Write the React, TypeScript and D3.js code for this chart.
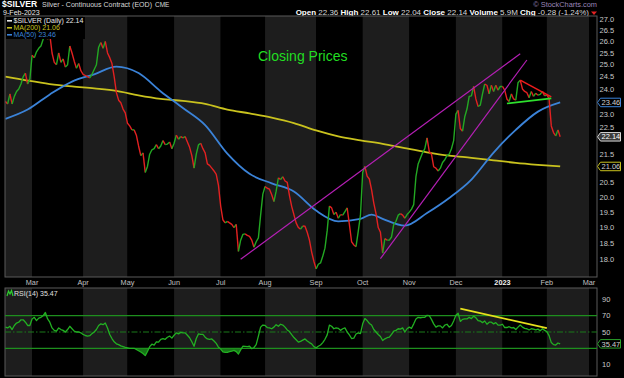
import React from 'react';
import * as d3 from 'd3';

const W = 624;
const H = 378;

// ---------- trading calendar ----------
const START_DATE = '2022-02-10';
const CALENDAR_END = '2023-03-10';
const HOLIDAYS = ['2022-02-21', '2022-04-15', '2022-05-30', '2022-06-20', '2022-07-04', '2022-09-05',
  '2022-11-24', '2022-12-26', '2023-01-02', '2023-01-16', '2023-02-20'];

// ---------- closes (per trading day, by month) ----------
const closeFeb2022 = [23.5, 23.4, 23.8, 23.4, 23.7, 23.9, 24.0, 24.2, 24.5, 24.65, 24.2, 24.4];
const closeMar2022 = [25.4, 25.3, 25.55, 25.7, 25.8, 26.1, 26.4, 26.1, 26.3, 25.5, 25.1, 25.0, 25.5, 25.1, 25.25, 24.9, 25.0, 25.8, 25.5, 25.15, 24.85, 25.05, 24.75];
const closeApr2022 = [24.6, 24.55, 24.5, 24.45, 24.6, 24.8, 25.0, 25.75, 25.95, 25.7, 26.0, 25.5, 25.3, 25.05, 24.5, 23.85, 23.55, 23.45, 23.2, 23.05];
const closeMay2022 = [22.65, 22.55, 22.4, 22.4, 22.2, 21.8, 21.45, 21.55, 20.85, 21.06, 21.5, 21.66, 21.7, 21.85, 21.7, 21.8, 22.0, 21.85, 21.87, 21.95, 21.7];
const closeJun2022 = [21.9, 22.2, 22.05, 22.15, 22.1, 22.15, 21.95, 21.75, 21.45, 21.0, 21.5, 21.84, 21.9, 21.7, 21.55, 21.15, 21.1, 21.0, 20.9, 20.78, 20.4];
const closeJul2022 = [19.7, 19.25, 19.15, 19.2, 19.15, 19.1, 19.0, 19.1, 18.25, 18.6, 18.78, 18.8, 18.75, 18.72, 18.6, 18.38, 18.55, 18.67, 19.4, 20.1];
const closeAug2022 = [20.36, 20.3, 20.27, 20.08, 19.85, 20.2, 20.66, 20.6, 20.7, 20.55, 20.5, 20.05, 19.69, 19.42, 19.15, 19.0, 18.95, 19.05, 19.04, 18.85, 18.6, 18.23, 17.95];
const closeSep2022 = [17.72, 17.86, 17.9, 18.1, 18.35, 18.9, 19.7, 19.64, 19.42, 19.5, 19.3, 19.42, 19.4, 19.52, 19.64, 19.1, 18.55, 18.45, 18.4, 18.88, 19.4];
const closeOct2022 = [20.85, 21.06, 20.72, 20.62, 20.25, 19.8, 19.45, 19.0, 18.85, 18.2, 18.65, 18.6, 18.6, 18.7, 19.1, 19.2, 19.4, 19.45, 19.4, 19.3, 19.42];
const closeNov2022 = [19.5, 19.6, 19.75, 20.7, 21.15, 21.35, 21.55, 21.7, 22.1, 21.6, 21.5, 21.05, 21.0, 20.9, 21.0, 21.2, 21.3, 21.45, 21.5, 21.7, 22.0];
const closeDec2022 = [23.0, 23.15, 22.45, 22.35, 22.9, 23.2, 23.7, 23.72, 24.1, 23.6, 23.3, 23.35, 23.8, 24.2, 24.15, 23.8, 24.15, 23.9, 24.15, 23.95, 24.1];
const closeJan2023 = [24.1, 23.95, 23.6, 23.5, 23.8, 23.6, 23.55, 24.25, 24.36, 24.0, 23.9, 23.85, 23.65, 23.9, 23.7, 23.83, 23.75, 23.78, 23.9, 23.72];
const closeFeb2023 = [23.76, 23.62, 22.55, 22.3, 22.17, 22.4, 22.14];

// ---------- RSI(14) (per trading day, by month) ----------
const rsiFeb2022 = [56, 55, 57, 53, 58, 61, 62, 65, 65, 62, 58, 58];
const rsiMar2022 = [66, 68, 64, 67, 68, 70, 74, 66, 62, 55, 52, 51, 55, 53, 52, 50, 53, 57, 54, 51, 50, 50, 49];
const rsiApr2022 = [47, 45.7, 45, 45.5, 48, 50, 53, 58, 60, 59, 61, 55, 47, 42, 38, 35.5, 34.5, 33, 32, 31];
const rsiMay2022 = [30.5, 30, 30, 30, 28.5, 27, 25.5, 23.5, 21, 26, 32, 35, 34, 38, 37.5, 41, 42, 41, 43.6, 45, 42.5];
const rsiJun2022 = [46, 49, 47.7, 49.5, 49, 49, 46, 43, 38, 32.5, 42, 47.7, 47, 47, 43.6, 41.5, 41, 41.5, 39, 36, 31.3];
const rsiJul2022 = [29, 25.5, 25.1, 25, 25.8, 26.5, 27.5, 26, 23, 28, 32.5, 32.3, 32, 32.5, 29.5, 31, 34.5, 45, 56, 58.5];
const rsiAug2022 = [58, 55.5, 55, 54, 56, 59, 57, 59.5, 58.5, 56, 52.5, 50.5, 46.7, 43.2, 40.5, 37.5, 38.5, 40, 41.5, 39, 37, 35.5, 32];
const rsiSep2022 = [30.5, 32.5, 34, 37, 41, 46.5, 58.5, 57, 54, 55, 54.5, 52, 54, 55, 50, 46.5, 42, 42.5, 47.5, 49, 48];
const rsiOct2022 = [60, 66.5, 64, 60.5, 58.5, 53, 50, 47, 44.5, 39.5, 41.6, 43, 43.6, 47, 51, 52, 54, 53.5, 55, 50, 54];
const rsiNov2022 = [56, 54.5, 60, 66, 68, 67.5, 68, 68, 70.5, 70, 65.5, 60, 56, 57.5, 57.5, 55, 58.5, 59.5, 56, 58, 63.5];
const rsiDec2022 = [70.5, 73, 63, 65.5, 66, 66, 68, 66.5, 69.5, 67.5, 64, 63.5, 61.5, 63.5, 59.5, 62, 62, 60, 61.5, 58.5, 58.5];
const rsiJan2023 = [59.5, 55.5, 55.5, 56.5, 55, 55.5, 53, 56, 58.5, 56, 54.5, 54, 52.5, 54, 53.5, 52.5, 53.5, 51.5, 54, 52];
const rsiFeb2023 = [50.5, 45.5, 37, 34.5, 34, 36.5, 35.47];

// ---------- moving averages (sampled on trading-day number) ----------
const ma50Day = [0, 10, 20, 30, 40, 50, 60, 70, 80, 90, 100, 110, 120, 130, 140, 150, 160, 165, 170, 180, 190, 200, 210, 220, 230, 240, 250];
const ma50Value = [22.82, 23.18, 23.78, 24.3, 24.6, 24.92, 24.65, 23.9, 23.24, 22.58, 21.52, 20.8, 20.47, 20.19, 19.55, 19.2, 19.28, 19.42, 19.28, 19.06, 19.47, 19.97, 20.6, 21.56, 22.4, 23.1, 23.46];
const ma200Day = [0, 10, 20, 30, 40, 50, 60, 70, 80, 90, 100, 110, 120, 130, 140, 150, 160, 170, 180, 190, 200, 210, 220, 230, 240, 250];
const ma200Value = [24.5, 24.34, 24.2, 24.1, 24.02, 23.92, 23.74, 23.6, 23.52, 23.4, 23.18, 23.03, 22.87, 22.66, 22.38, 22.16, 22.01, 21.88, 21.72, 21.57, 21.45, 21.37, 21.28, 21.19, 21.12, 21.06];

// ---------- annotations (date, value) ----------
const channelUpper = [{ date: '2022-07-15', value: 18.01 }, { date: '2023-01-13', value: 25.47 }];
const channelLower = [{ date: '2022-10-13', value: 18.03 }, { date: '2023-01-19', value: 25.2 }];
const pennantTop = [{ date: '2023-01-13', value: 24.36 }, { date: '2023-02-03', value: 23.68 }];
const pennantBottom = [{ date: '2023-01-05', value: 23.42 }, { date: '2023-02-03', value: 23.62 }];
const rsiTrend = [{ date: '2022-12-05', value: 78.6 }, { date: '2023-02-01', value: 54.7 }];

// ---------- labels ----------
const priceTicks = [18.0, 18.5, 19.0, 19.5, 20.0, 20.5, 21.0, 21.5, 22.0, 22.5, 23.0, 23.5, 24.0, 24.5, 25.0, 25.5, 26.0, 26.5, 27.0];
const rsiTicks = [10, 30, 50, 70, 90];
const rsiLevels = [30, 70];
const headerStats = [['Open', '22.36'], ['High', '22.61'], ['Low', '22.04'], ['Close', '22.14'], ['Volume', '5.9M'], ['Chg', '-0.28 (-1.24%)']];
const legendItems = [
  { label: '$SILVER (Daily) 22.14', color: '#e8e8e8' },
  { label: 'MA(200) 21.06', color: '#c9c21e' },
  { label: 'MA(50) 23.46', color: '#3b83d8' },
];
const lastClose = 22.14;
const lastMA50 = 23.46;
const lastMA200 = 21.06;
const lastRSI = 35.47;

// ---------- layout ----------
const PL = 5, PR = 597;
const PT = 16, PB = 277;
const RT = 288, RB = 376;
const FONT = "'Liberation Sans', Arial, sans-serif";
const UP = '#23a823';
const DOWN = '#e22121';
const GRAY_BAND = '#1d1d1d';

function iso(d: Date) {
  return d3.utcFormat('%Y-%m-%d')(d);
}

function tradingDays(): Date[] {
  const all = d3.utcDay.range(new Date(START_DATE + 'T00:00:00Z'), new Date(CALENDAR_END + 'T00:00:00Z'));
  return all.filter((d) => d.getUTCDay() !== 0 && d.getUTCDay() !== 6 && !HOLIDAYS.includes(iso(d)));
}

export default function App() {
  const days = tradingDays();
  const closes = [...closeFeb2022, ...closeMar2022, ...closeApr2022, ...closeMay2022, ...closeJun2022, ...closeJul2022,
    ...closeAug2022, ...closeSep2022, ...closeOct2022, ...closeNov2022, ...closeDec2022, ...closeJan2023, ...closeFeb2023];
  const rsi = [...rsiFeb2022, ...rsiMar2022, ...rsiApr2022, ...rsiMay2022, ...rsiJun2022, ...rsiJul2022,
    ...rsiAug2022, ...rsiSep2022, ...rsiOct2022, ...rsiNov2022, ...rsiDec2022, ...rsiJan2023, ...rsiFeb2023];
  const n = closes.length;

  const x = d3.scaleLinear().domain([-0.2, 266.6]).range([PL, PR]);
  const y = d3.scaleLog().domain([17.48, 27.14]).range([PB, PT]);
  const yr = d3.scaleLinear().domain([-4, 104]).range([RB, RT]);
  const idxOf = (s: string) => days.findIndex((d) => iso(d) === s);

  // month starts
  const monthStarts: { i: number; d: Date }[] = [];
  days.forEach((d, i) => {
    if (i === 0 || d.getUTCMonth() !== days[i - 1].getUTCMonth()) monthStarts.push({ i, d });
  });
  const bands = monthStarts
    .map((m, k) => ({
      x0: k === 0 ? PL : x(m.i),
      x1: k + 1 < monthStarts.length ? Math.min(PR, x(monthStarts[k + 1].i)) : PR,
      gray: k % 2 === 0,
    }))
    .filter((b) => b.x0 < PR);
  const monthLabels = monthStarts
    .filter((m, k) => k > 0 && x(m.i) <= PR)
    .map((m) => ({
      x: x(m.i),
      text: m.d.getUTCMonth() === 0 ? String(m.d.getUTCFullYear()) : d3.utcFormat('%b')(m.d),
      year: m.d.getUTCMonth() === 0,
    }));

  // price segments colored by direction
  const segs: { up: boolean; pts: number[] }[] = [];
  let cur: { up: boolean; pts: number[] } | null = null;
  for (let i = 1; i < n; i++) {
    const up = closes[i] >= closes[i - 1];
    if (!cur || cur.up !== up) {
      cur = { up, pts: [i - 1] };
      segs.push(cur);
    }
    cur.pts.push(i);
  }
  const priceLine = d3.line<number>().x((i) => x(i)).y((i) => y(closes[i]));
  const maLine = d3.line<[number, number]>().x((p) => x(p[0])).y((p) => y(p[1])).curve(d3.curveMonotoneX);
  const ma50Path = maLine(ma50Day.map((dd, k) => [dd, ma50Value[k]]));
  const ma200Path = maLine(ma200Day.map((dd, k) => [dd, ma200Value[k]]));

  const rsiIdx = d3.range(n);
  const rsiLine = d3.line<number>().x((i) => x(i)).y((i) => yr(rsi[i]));
  const rsiAreaHigh = d3.area<number>().x((i) => x(i)).y0(yr(70)).y1((i) => yr(rsi[i]));
  const rsiAreaLow = d3.area<number>().x((i) => x(i)).y0(yr(30)).y1((i) => yr(rsi[i]));

  const seg = (pts: { date: string; value: number }[], sy: (v: number) => number) => {
    const a = pts[0], b = pts[1];
    return { x1: x(idxOf(a.date)), y1: sy(a.value), x2: x(idxOf(b.date)), y2: sy(b.value) };
  };
  const chU = seg(channelUpper, y);
  const chL = seg(channelLower, y);
  const pT = seg(pennantTop, y);
  const pB = seg(pennantBottom, y);
  const rT = seg(rsiTrend, yr);

  const priceTags = [lastMA50, lastClose, lastMA200].map((v) => y(v));
  const visiblePriceTicks = priceTicks.filter((t) => priceTags.every((ty) => Math.abs(y(t) - ty) > 7));
  const visibleRsiTicks = rsiTicks.filter((t) => Math.abs(yr(t) - yr(lastRSI)) > 7);

  const tag = (yy: number, text: string, stroke: string, fill: string, color: string, key: string) => {
    const h = 8.5;
    const x0 = PR + 0.5;
    const w = 23;
    const d = `M${x0},${yy} L${x0 + 3},${yy - h / 2} L${x0 + w},${yy - h / 2} L${x0 + w},${yy + h / 2} L${x0 + 3},${yy + h / 2} Z`;
    return (
      <g key={key}>
        <path d={d} fill={fill} stroke={stroke} strokeWidth={1} />
        <text x={x0 + 4} y={yy + 2.7} fontSize={7.5} fill={color} fontFamily={FONT}>{text}</text>
      </g>
    );
  };

  return (
    <div style={{ position: 'absolute', left: 0, top: 0 }}>
      <svg width={W} height={H} style={{ display: 'block', background: '#000' }} fontFamily={FONT}>
        <defs>
          <clipPath id="priceClip"><rect x={PL} y={PT} width={PR - PL} height={PB - PT} /></clipPath>
          <clipPath id="rsiClip"><rect x={PL} y={RT} width={PR - PL} height={RB - RT} /></clipPath>
          <clipPath id="rsiHighClip"><rect x={PL} y={RT} width={PR - PL} height={yr(70) - RT} /></clipPath>
          <clipPath id="rsiLowClip"><rect x={PL} y={yr(30)} width={PR - PL} height={RB - yr(30)} /></clipPath>
        </defs>
        <rect x={0} y={0} width={W} height={H} fill="#000" />

        {/* header */}
        <text x={2} y={7} fontSize={8.6} fontWeight="bold" fill="#fff">$SILVER</text>
        <text x={42} y={7} fontSize={7} fill="#d8d8d8" textLength={110} lengthAdjust="spacingAndGlyphs">Silver - Continuous Contract (EOD)</text>
        <text x={155} y={7} fontSize={6.5} fill="#d8d8d8">CME</text>
        <text x={3} y={14.8} fontSize={7.1} fill="#e8e8e8">9-Feb-2023</text>
        <text x={PR} y={6.5} fontSize={7.4} fill="#9a86b8" textAnchor="end">© StockCharts.com</text>
        <text x={589} y={14.5} fontSize={8} textAnchor="end">
          {headerStats.map(([k, v], j) => (
            <React.Fragment key={k}>
              <tspan fill="#fff" fontWeight="bold">{(j > 0 ? '  ' : '') + k}</tspan>
              <tspan fill="#d8d8d8">{' ' + v}</tspan>
            </React.Fragment>
          ))}
        </text>
        <path d="M591,11.5 L597,11.5 L594,15 Z" fill="#e22121" />

        {/* panel backgrounds: alternating month shading */}
        {bands.map((b, k) => (
          <rect key={'pb' + k} x={b.x0} y={PT} width={b.x1 - b.x0} height={PB - PT} fill={b.gray ? GRAY_BAND : '#000'} />
        ))}
        {bands.map((b, k) => (
          <rect key={'rb' + k} x={b.x0} y={RT} width={b.x1 - b.x0} height={RB - RT} fill={b.gray ? GRAY_BAND : '#000'} />
        ))}

        <g clipPath="url(#priceClip)">
          <path d={ma200Path || ''} fill="none" stroke="#c9c21e" strokeWidth={1.8} />
          <path d={ma50Path || ''} fill="none" stroke="#3b83d8" strokeWidth={1.8} />
          {segs.map((s, k) => (
            <path key={'s' + k} d={priceLine(s.pts) || ''} fill="none" stroke={s.up ? UP : DOWN} strokeWidth={1.4} strokeLinejoin="round" />
          ))}
          <line {...chU} stroke="#b41fb4" strokeWidth={1.2} />
          <line {...chL} stroke="#b41fb4" strokeWidth={1.2} />
          <line {...pT} stroke="#ee1c1c" strokeWidth={1.6} />
          <line {...pB} stroke="#2ee02e" strokeWidth={1.6} />
        </g>

        {/* legend */}
        <rect x={6} y={17} width={79} height={22} fill="#000" />
        {legendItems.map((it, k) => (
          <g key={it.label}>
            <line x1={7} x2={12} y1={20.8 + k * 7} y2={20.8 + k * 7} stroke={it.color} strokeWidth={1.6} />
            <text x={13.5} y={23.3 + k * 7} fontSize={7} fill={it.color}>{it.label}</text>
          </g>
        ))}

        <text x={258} y={61} fontSize={14} fill="#22dd22">Closing Prices</text>

        {/* frames */}
        <rect x={PL} y={PT} width={PR - PL} height={PB - PT} fill="none" stroke="#5a5a5a" strokeWidth={1} />
        <rect x={PL} y={RT} width={PR - PL} height={RB - RT} fill="none" stroke="#5a5a5a" strokeWidth={1} />

        {/* price axis */}
        {visiblePriceTicks.map((t) => (
          <text key={'pt' + t} x={599.5} y={y(t) + 2.6} fontSize={7.5} fill="#c8c8c8">{t.toFixed(1)}</text>
        ))}
        {tag(y(lastMA50), lastMA50.toFixed(2), '#3b83d8', '#000', '#d0d0d0', 'tg1')}
        {tag(y(lastClose), lastClose.toFixed(2), '#d8d8d8', '#3a3a3a', '#fff', 'tg2')}
        {tag(y(lastMA200), lastMA200.toFixed(2), '#c9c21e', '#000', '#d0d0d0', 'tg3')}

        {/* month labels */}
        {monthLabels.map((m) => (
          <text key={'m' + m.x} x={m.x} y={284.5} fontSize={7.3} textAnchor="middle"
            fill={m.year ? '#f0f0f0' : '#c0c0c0'} fontWeight={m.year ? 'bold' : 'normal'}>{m.text}</text>
        ))}

        {/* RSI panel */}
        <g clipPath="url(#rsiClip)">
          <g clipPath="url(#rsiHighClip)">
            <path d={rsiAreaHigh(rsiIdx) || ''} fill="#1f9a1f" opacity={0.75} />
          </g>
          <g clipPath="url(#rsiLowClip)">
            <path d={rsiAreaLow(rsiIdx) || ''} fill="#1f9a1f" opacity={0.75} />
          </g>
          {rsiLevels.map((lv) => (
            <line key={'lv' + lv} x1={PL} x2={PR} y1={yr(lv)} y2={yr(lv)} stroke="#1e8f1e" strokeWidth={1.2} />
          ))}
          <line x1={PL} x2={PR} y1={yr(50)} y2={yr(50)} stroke="#1b7a1b" strokeWidth={1.2} strokeDasharray="6,2,1.5,2" />
          <path d={rsiLine(rsiIdx) || ''} fill="none" stroke="#22b022" strokeWidth={1.3} strokeLinejoin="round" />
          <line {...rT} stroke="#e6e01c" strokeWidth={1.8} />
        </g>
        <path d="M7,296 L8.5,291 L10,294 L11.5,290.5 L13,296" fill="none" stroke="#2ed12e" strokeWidth={1.2} />
        <text x={14} y={296} fontSize={7} fill="#e0e0e0">RSI(14) 35.47</text>
        {visibleRsiTicks.map((t) => (
          <text key={'rt' + t} x={602} y={yr(t) + 2.6} fontSize={7.5} fill="#c8c8c8">{t}</text>
        ))}
        {tag(yr(lastRSI), lastRSI.toFixed(2), '#2aa02a', '#000', '#d0d0d0', 'tg4')}
      </svg>
    </div>
  );
}
